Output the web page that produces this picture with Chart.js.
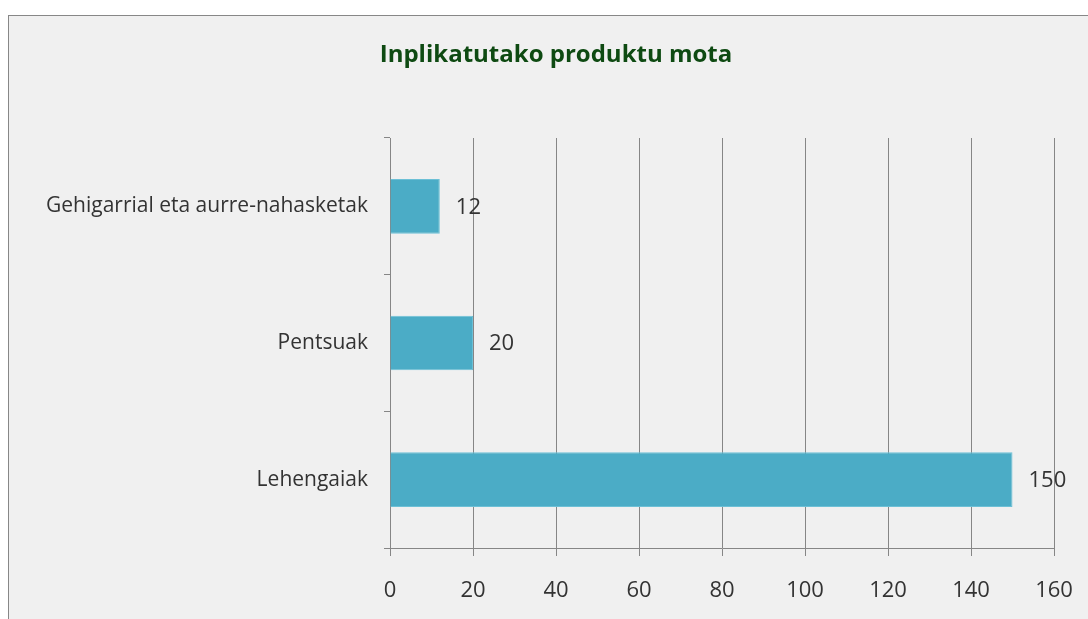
<!DOCTYPE html>
<html lang="eu">
<head>
<meta charset="UTF-8">
<title>Inplikatutako produktu mota</title>
<style>
    body {
        margin: 0;
        background: #fff;
        overflow: hidden;
    }
    .frame {
        position: absolute;
        left: 8px;
        top: 15px;
        width: 1094px;
        height: 620px;
        border: 1px solid #878787;
        background: #f0f0f0;
    }
    .frame canvas {
        display: block;
    }
</style>
</head>
<body>
<div class="frame">
    <canvas id="chart" width="1094" height="610"></canvas>
</div>
<script src="https://cdn.jsdelivr.net/npm/chart.js"></script>
<script>
    const categories = ['Gehigarrial eta aurre-nahasketak', 'Pentsuak', 'Lehengaiak'];
    const values = [12, 20, 150];
    const xTicks = [0, 20, 40, 60, 80, 100, 120, 140, 160];
    const chartTitle = 'Inplikatutako produktu mota';

    const fontFamily = '"Open Sans", "Liberation Sans", sans-serif';
    const textColor = '#333333';
    const gridColor = '#868686';

    // value labels next to each bar end
    const valueLabels = {
        id: 'valueLabels',
        afterDatasetsDraw(chart) {
            const ctx = chart.ctx;
            const meta = chart.getDatasetMeta(0);
            ctx.save();
            ctx.font = '22px ' + fontFamily;
            ctx.fillStyle = textColor;
            ctx.textAlign = 'left';
            ctx.textBaseline = 'middle';
            meta.data.forEach((bar, i) => {
                ctx.fillText(String(values[i]), bar.x + 16, bar.y + 1);
            });
            ctx.restore();
        }
    };

    // title centred on the whole canvas, not on the padded box
    const centredTitle = {
        id: 'centredTitle',
        afterDraw(chart) {
            const ctx = chart.ctx;
            ctx.save();
            ctx.font = 'bold 24px ' + fontFamily;
            ctx.fillStyle = '#0e4a12';
            ctx.textAlign = 'center';
            ctx.textBaseline = 'middle';
            ctx.fillText(chartTitle, chart.width / 2, 39);
            ctx.restore();
        }
    };

    new Chart(document.getElementById('chart'), {
        type: 'bar',
        data: {
            labels: categories,
            datasets: [{
                data: values,
                backgroundColor: '#4bacc6',
                borderColor: '#6cc0d6',
                borderWidth: 1,
                barPercentage: 0.4,
                categoryPercentage: 1
            }]
        },
        options: {
            indexAxis: 'y',
            responsive: false,
            animation: false,
            layout: {
                padding: { left: 0, right: 49, top: 122, bottom: 18 }
            },
            plugins: {
                legend: { display: false },
                tooltip: { enabled: false },
                title: { display: false }
            },
            scales: {
                x: {
                    min: 0,
                    max: 160,
                    afterBuildTicks(scale) {
                        scale.ticks = xTicks.map(v => ({ value: v }));
                    },
                    afterFit(scale) {
                        scale.height = 60;
                    },
                    grid: {
                        color: gridColor,
                        lineWidth: 1,
                        tickLength: 8,
                        drawOnChartArea: true
                    },
                    border: { color: gridColor },
                    ticks: {
                        color: textColor,
                        padding: 22,
                        font: { family: fontFamily, size: 22 }
                    }
                },
                y: {
                    afterFit(scale) {
                        scale.width = 381;
                    },
                    grid: {
                        offset: true,
                        drawOnChartArea: false,
                        color: gridColor,
                        tickLength: 6
                    },
                    border: { color: gridColor },
                    ticks: {
                        color: textColor,
                        padding: 16,
                        font: { family: fontFamily, size: 21 }
                    }
                }
            }
        },
        plugins: [valueLabels, centredTitle]
    });
</script>
</body>
</html>
